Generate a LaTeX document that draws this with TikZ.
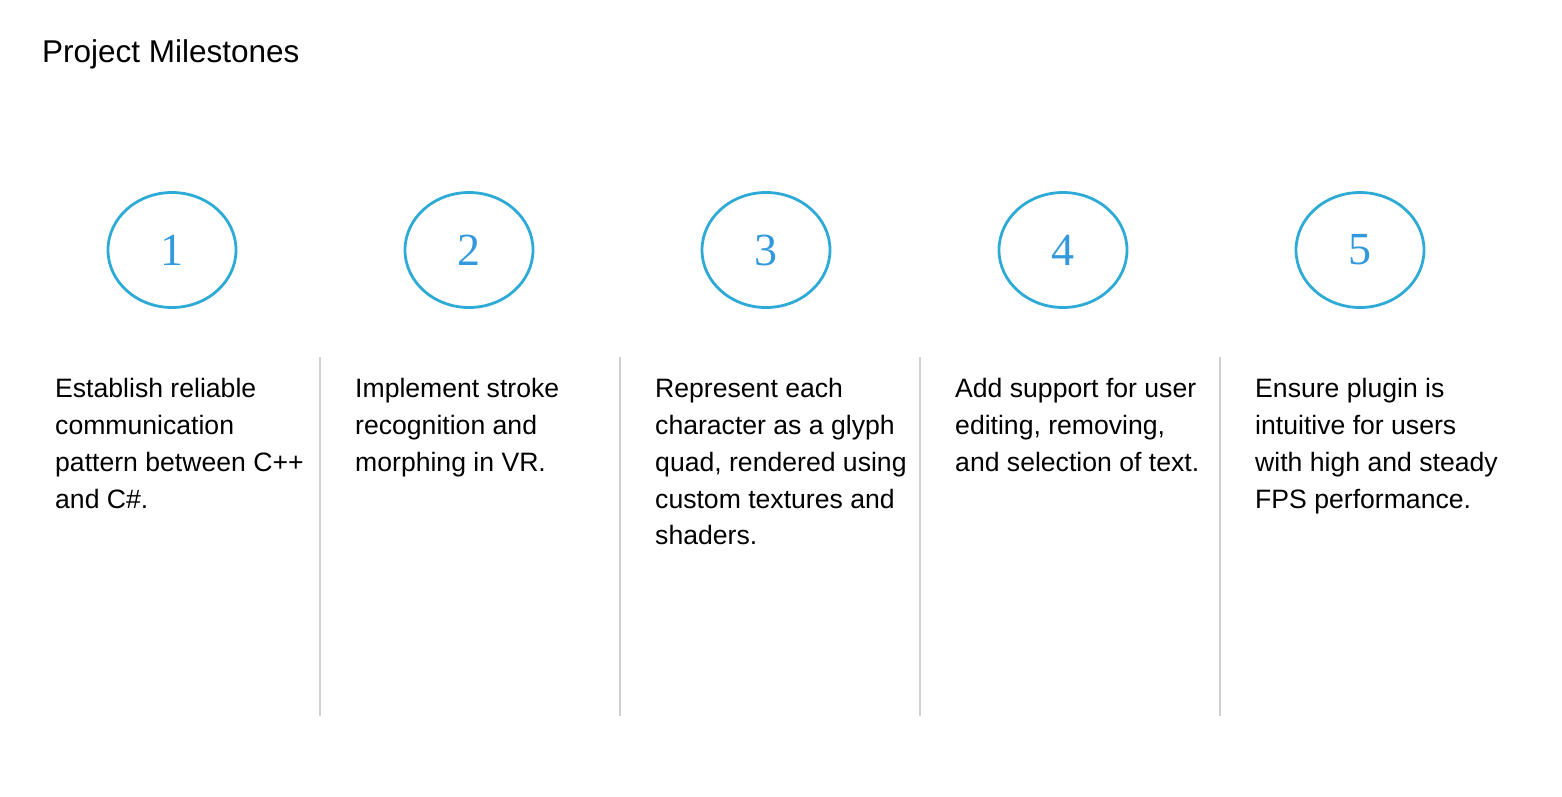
\documentclass[tikz,border=0pt]{standalone}
\usepackage{fontspec}
\setmainfont{Liberation Sans}
\newfontfamily\numfont{Liberation Serif}
\usetikzlibrary{shapes.geometric}
\definecolor{ringblue}{HTML}{2EAAD6}
\definecolor{digitblue}{HTML}{3399DD}
\definecolor{rulegray}{HTML}{D0D0D0}
\begin{document}
\begin{tikzpicture}[x=1pt,y=-1pt,
  ring/.style={draw=ringblue,line width=2.8pt,ellipse,minimum width=128pt,minimum height=115pt,inner sep=0pt,
    font=\numfont\fontsize{46}{46}\selectfont,text=digitblue},
  divider/.style={draw=rulegray,line width=1.6pt},
  desc/.style={anchor=base west,align=left,inner sep=0pt,
    font=\fontsize{26.6}{36.7}\selectfont},
  heading/.style={anchor=base west,inner sep=0pt,font=\fontsize{31.5}{33}\selectfont}]
\useasboundingbox (0,0) rectangle (1562,796);
\fill[white] (0,0) rectangle (1562,796);

\node[heading] (title) at (42,62) {Project Milestones};

% milestone circles
\node[ring] (m1) at (172,250) {1};
\node[ring] (m2) at (469,250) {2};
\node[ring] (m3) at (766,250) {3};
\node[ring] (m4) at (1063,250) {4};
\node[ring] (m5) at (1360,250) {5};

% column separators
\foreach \i/\x in {1/320,2/620,3/920,4/1220}{
  \coordinate (s\i t) at (\x,357);
  \coordinate (s\i b) at (\x,716);
  \draw[divider] (s\i t) -- (s\i b);
}

% milestone descriptions (anchored at the baseline of the last line)
\node[desc] (d1) at (55,508) {Establish reliable\\communication\\pattern between C++\\and C\#.};
\node[desc] (d2) at (355,471.3) {Implement stroke\\recognition and\\morphing in VR.};
\node[desc] (d3) at (655,544.7) {Represent each\\character as a glyph\\quad, rendered using\\custom textures and\\shaders.};
\node[desc] (d4) at (955,471.3) {Add support for user\\editing, removing,\\and selection of text.};
\node[desc] (d5) at (1255,508) {Ensure plugin is\\intuitive for users\\with high and steady\\FPS performance.};
\end{tikzpicture}
\end{document}
